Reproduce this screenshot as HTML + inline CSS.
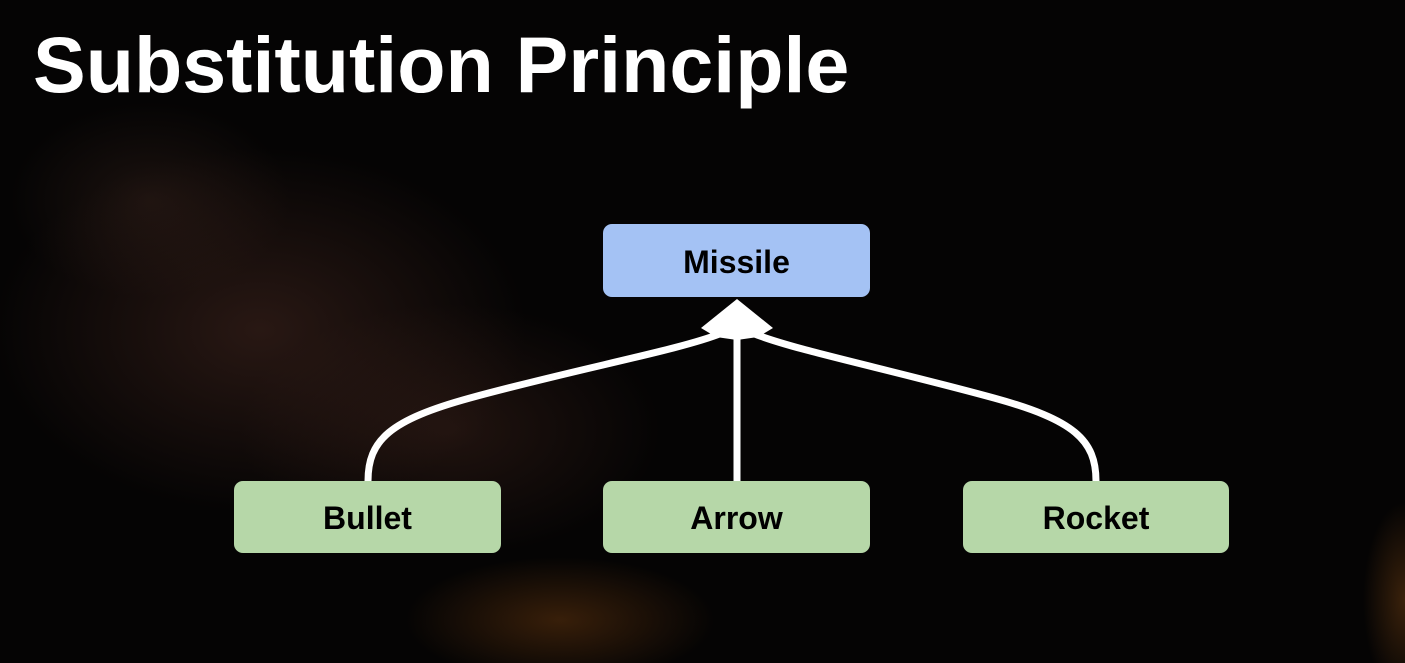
<!DOCTYPE html>
<html><head><style>
html,body{margin:0;padding:0}
body{width:1405px;height:663px;overflow:hidden;position:relative;background:#050404;font-family:"Liberation Sans",sans-serif}
.bg{position:absolute;inset:0;background:
radial-gradient(ellipse 380px 260px at 260px 330px,rgba(70,40,32,.55),transparent 70%),
radial-gradient(ellipse 300px 180px at 450px 430px,rgba(60,34,26,.5),transparent 70%),
radial-gradient(ellipse 200px 140px at 150px 200px,rgba(55,35,28,.45),transparent 70%),
radial-gradient(ellipse 220px 90px at 560px 620px,rgba(150,80,20,.35),transparent 70%),
radial-gradient(ellipse 60px 140px at 1405px 600px,rgba(160,90,25,.35),transparent 70%);}
.t{position:absolute;left:33px;top:25px;color:#fff;font-weight:bold;font-size:79px;line-height:1;white-space:nowrap}
.b{position:absolute;border-radius:9px;display:flex;align-items:center;justify-content:center;font-weight:bold;font-size:32px;color:#000;padding-top:3px;box-sizing:border-box}
.m{background:#a4c2f4}.g{background:#b6d7a8}
</style></head><body>
<div class="bg"></div>
<div class="t">Substitution Principle</div>
<svg style="position:absolute;left:0;top:0" width="1405" height="663">
<g fill="none" stroke="#fff" stroke-width="7">
<path d="M368,481 C368,440 390,420 470,398 C580,368 680,350 722,333"/>
<path d="M1096,481 C1096,440 1074,420 994,398 C884,368 794,350 752,333"/>
<path d="M737,481 L737,335"/>
</g>
<polygon fill="#fff" points="737,299 773,328 758,337 737,340 716,337 701,328"/>
</svg>
<div class="b m" style="left:603px;top:224px;width:267px;height:73px">Missile</div>
<div class="b g" style="left:234px;top:481px;width:267px;height:72px">Bullet</div>
<div class="b g" style="left:603px;top:481px;width:267px;height:72px">Arrow</div>
<div class="b g" style="left:963px;top:481px;width:266px;height:72px">Rocket</div>
</body></html>
